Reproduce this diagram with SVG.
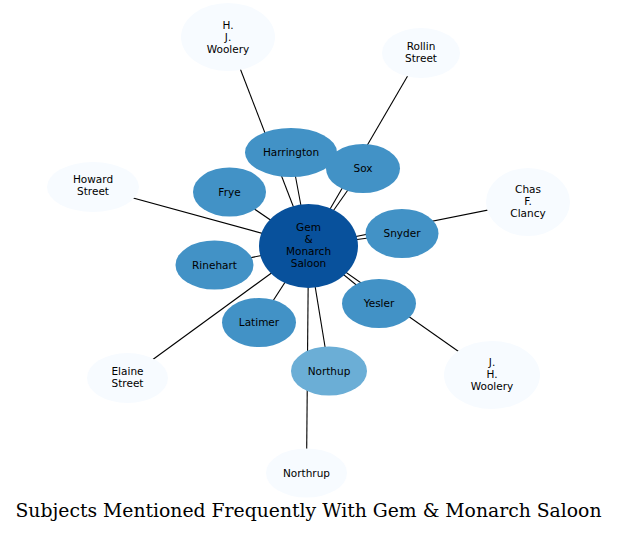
<svg xmlns="http://www.w3.org/2000/svg" width="617" height="533" viewBox="0 0 617 533">
<style>
.e{stroke:#000;stroke-width:1.1;fill:none}
.t{font-family:"DejaVu Sans",sans-serif;font-size:10.5px;fill:#000;text-anchor:middle}
.l{fill:#f7fbff}
.m{fill:#4292c6}
.n{fill:#6baed6}
.c{fill:#08519c}
.title{font-family:"DejaVu Serif",serif;font-size:18.8px;fill:#000;text-anchor:middle}
</style>
<rect width="617" height="533" fill="#fff"/>
<g id="edges">
<line class="e" x1="308.5" y1="246" x2="228" y2="37"/>
<line class="e" x1="308.5" y1="246" x2="291" y2="152.5"/>
<line class="e" x1="308.5" y1="246" x2="421" y2="53"/>
<line class="e" x1="308.5" y1="246" x2="363" y2="168.5"/>
<line class="e" x1="308.5" y1="246" x2="93" y2="187"/>
<line class="e" x1="308.5" y1="246" x2="229.5" y2="192"/>
<line class="e" x1="308.5" y1="246" x2="528" y2="202"/>
<line class="e" x1="308.5" y1="246" x2="402" y2="233.5"/>
<line class="e" x1="308.5" y1="246" x2="214.5" y2="265"/>
<line class="e" x1="308.5" y1="246" x2="127.5" y2="378"/>
<line class="e" x1="308.5" y1="246" x2="259" y2="322.5"/>
<line class="e" x1="308.5" y1="246" x2="492" y2="375"/>
<line class="e" x1="308.5" y1="246" x2="379" y2="303.5"/>
<line class="e" x1="308.5" y1="246" x2="306.5" y2="473"/>
<line class="e" x1="308.5" y1="246" x2="329" y2="371"/>
</g>
<g id="hjwoolery"><ellipse class="l" cx="228" cy="37" rx="47" ry="34"/><text class="t" x="228" y="29">H.</text><text class="t" x="228" y="41">J.</text><text class="t" x="228" y="53">Woolery</text></g>
<g id="rollin"><ellipse class="l" cx="421" cy="53" rx="39" ry="25"/><text class="t" x="421" y="49.7">Rollin</text><text class="t" x="421" y="61.5">Street</text></g>
<g id="howard"><ellipse class="l" cx="93" cy="187" rx="46" ry="25"/><text class="t" x="93" y="183">Howard</text><text class="t" x="93" y="195">Street</text></g>
<g id="clancy"><ellipse class="l" cx="528" cy="202" rx="42" ry="34"/><text class="t" x="528" y="193">Chas</text><text class="t" x="528" y="205">F.</text><text class="t" x="528" y="216.5">Clancy</text></g>
<g id="elaine"><ellipse class="l" cx="127.5" cy="378" rx="40.5" ry="25"/><text class="t" x="127.5" y="374.7">Elaine</text><text class="t" x="127.5" y="386.5">Street</text></g>
<g id="jhwoolery"><ellipse class="l" cx="492" cy="375" rx="48" ry="34"/><text class="t" x="492" y="365.5">J.</text><text class="t" x="492" y="377.5">H.</text><text class="t" x="492" y="389.5">Woolery</text></g>
<g id="northrup"><ellipse class="l" cx="306.5" cy="473" rx="40.5" ry="24.5"/><text class="t" x="306.5" y="476.5">Northrup</text></g>
<g id="harrington"><ellipse class="m" cx="291" cy="152.5" rx="46" ry="24.5"/><text class="t" x="291" y="156">Harrington</text></g>
<g id="sox"><ellipse class="m" cx="363" cy="168.5" rx="37" ry="24.5"/><text class="t" x="363" y="172">Sox</text></g>
<g id="frye"><ellipse class="m" cx="229.5" cy="192" rx="36.5" ry="24.5"/><text class="t" x="229.5" y="195.5">Frye</text></g>
<g id="snyder"><ellipse class="m" cx="402" cy="233.5" rx="36.5" ry="24.5"/><text class="t" x="402" y="237">Snyder</text></g>
<g id="rinehart"><ellipse class="m" cx="214.5" cy="265" rx="39" ry="24.5"/><text class="t" x="214.5" y="268.5">Rinehart</text></g>
<g id="yesler"><ellipse class="m" cx="379" cy="303.5" rx="37" ry="24.5"/><text class="t" x="379" y="307">Yesler</text></g>
<g id="latimer"><ellipse class="m" cx="259" cy="322.5" rx="37" ry="24.5"/><text class="t" x="259" y="326">Latimer</text></g>
<g id="northup"><ellipse class="n" cx="329" cy="371" rx="38" ry="24.5"/><text class="t" x="329" y="374.5">Northup</text></g>
<g id="gem"><ellipse class="c" cx="308.5" cy="246" rx="49.5" ry="42"/><text class="t" x="308.5" y="231">Gem</text><text class="t" x="308.5" y="243">&amp;</text><text class="t" x="308.5" y="255">Monarch</text><text class="t" x="308.5" y="267">Saloon</text></g>
<text class="title" x="308.5" y="517">Subjects Mentioned Frequently With Gem &amp; Monarch Saloon</text>
</svg>
